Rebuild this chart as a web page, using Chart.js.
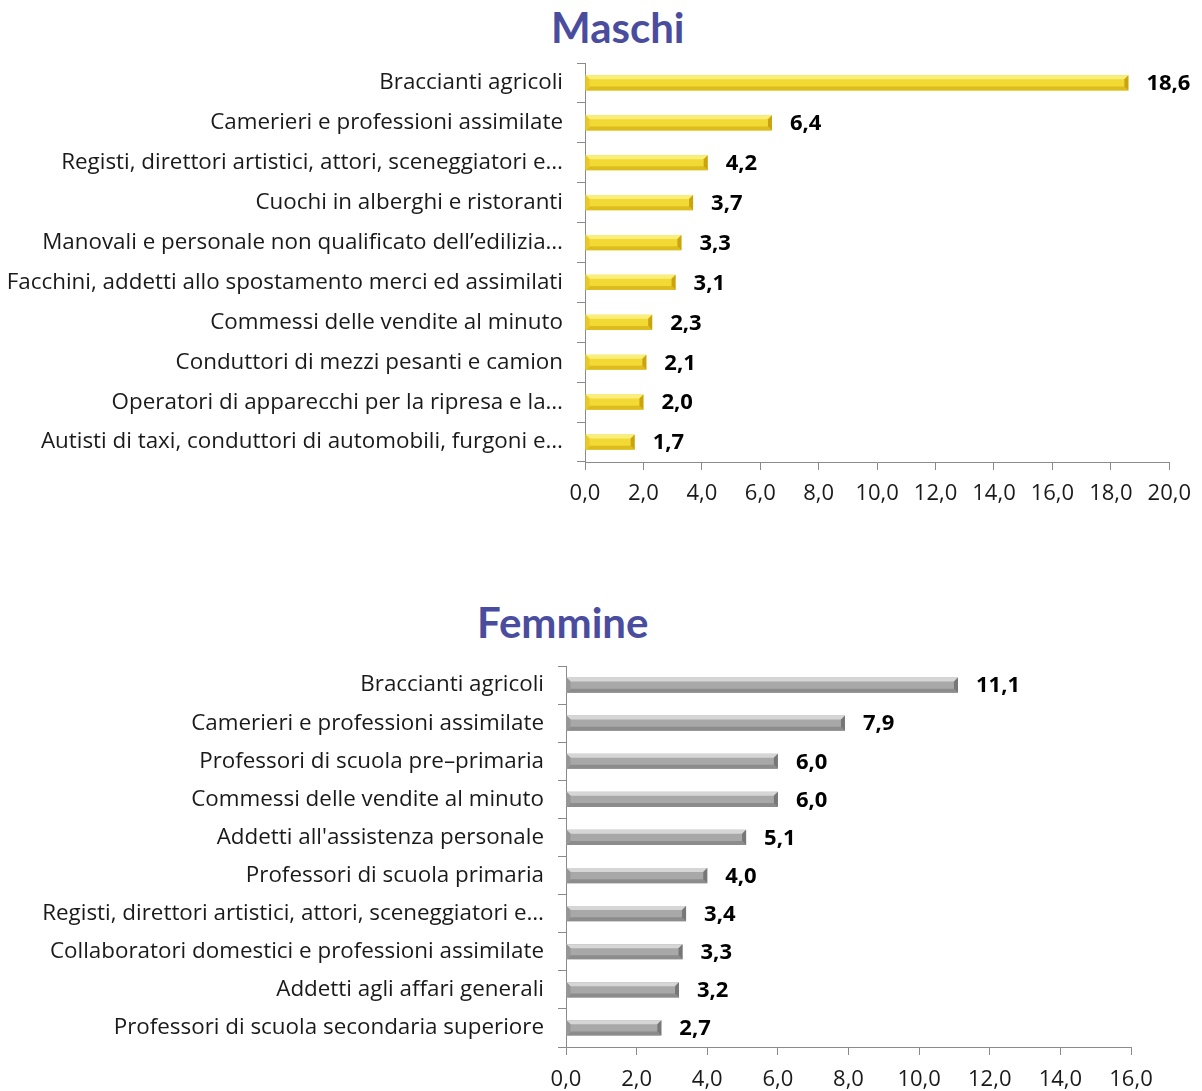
<!DOCTYPE html>
<html>
<head>
<meta charset="utf-8">
<script src="https://cdn.jsdelivr.net/npm/chart.js@4"></script>
<style>
  body { margin: 0; background: #fff; width: 1202px; height: 1091px; position: relative; overflow: hidden; }
  .title { position: absolute; font-family: Lato, sans-serif; font-weight: bold; font-size: 42px; color: #4a4d9e; line-height: 1; }
  .box { position: absolute; left: 0; width: 1202px; }
</style>
</head>
<body>
<div class="title" style="left:551px; top:6px;">Maschi</div>
<div class="title" style="left:477px; top:601px;">Femmine</div>
<div class="box" style="top:0; height:520px;"><canvas id="maschiChart"></canvas></div>
<div class="box" style="top:560px; height:531px;"><canvas id="femmineChart"></canvas></div>
<script>
const maleCategories = [
  'Braccianti agricoli',
  'Camerieri e professioni assimilate',
  'Registi, direttori artistici, attori, sceneggiatori e…',
  'Cuochi in alberghi e ristoranti',
  'Manovali e personale non qualificato dell’edilizia…',
  'Facchini, addetti allo spostamento merci ed assimilati',
  'Commessi delle vendite al minuto',
  'Conduttori di mezzi pesanti e camion',
  'Operatori di apparecchi per la ripresa e la…',
  'Autisti di taxi, conduttori di automobili, furgoni e…'
];
const maleValues = [18.6, 6.4, 4.2, 3.7, 3.3, 3.1, 2.3, 2.1, 2.0, 1.7];

const femaleCategories = [
  'Braccianti agricoli',
  'Camerieri e professioni assimilate',
  'Professori di scuola pre–primaria',
  'Commessi delle vendite al minuto',
  "Addetti all'assistenza personale",
  'Professori di scuola primaria',
  'Registi, direttori artistici, attori, sceneggiatori e…',
  'Collaboratori domestici e professioni assimilate',
  'Addetti agli affari generali',
  'Professori di scuola secondaria superiore'
];
const femaleValues = [11.1, 7.9, 6.0, 6.0, 5.1, 4.0, 3.4, 3.3, 3.2, 2.7];

const maleAxis = [0, 20, 2];   // min, max, step
const femaleAxis = [0, 16, 2];

const fmt = v => v.toFixed(1).replace('.', ',');
const FONT = "'Open Sans', sans-serif";

// bevelled bars + value labels
const bevelPlugin = {
  id: 'bevel',
  afterDatasetsDraw(chart, args, opts) {
    const ctx = chart.ctx;
    const meta = chart.getDatasetMeta(0);
    const values = chart.data.datasets[0].data;
    meta.data.forEach((bar, i) => {
      const p = bar.getProps(['x', 'y', 'base', 'height'], true);
      const x0 = p.base, x1 = p.x;
      const top = p.y - p.height / 2, bot = p.y + p.height / 2;
      const b = 4;
      const poly = (pts, color) => {
        ctx.beginPath();
        ctx.moveTo(pts[0][0], pts[0][1]);
        pts.slice(1).forEach(q => ctx.lineTo(q[0], q[1]));
        ctx.closePath();
        ctx.fillStyle = color;
        ctx.fill();
      };
      ctx.save();
      poly([[x0, top], [x1, top], [x1 - b, top + b], [x0 + b, top + b]], opts.light);
      poly([[x0, bot], [x1, bot], [x1 - b, bot - b], [x0 + b, bot - b]], opts.dark);
      poly([[x1, top], [x1, bot], [x1 - b, bot - b], [x1 - b, top + b]], opts.end);
      poly([[x0, top], [x0, bot], [x0 + b, bot - b], [x0 + b, top + b]], opts.start);
      ctx.fillStyle = '#000';
      ctx.font = 'bold 22px ' + FONT;
      ctx.textBaseline = 'middle';
      ctx.textAlign = 'left';
      ctx.fillText(fmt(values[i]), x1 + 18, p.y + 1);
      ctx.restore();
    });
  }
};

function createChart(id, labels, values, axis, colors, box) {
  const ctx = document.getElementById(id).getContext('2d');
  return new Chart(ctx, {
    type: 'bar',
    data: {
      labels: labels,
      datasets: [{
        data: values,
        backgroundColor: colors.main,
        borderWidth: 0,
        barPercentage: box.barPct,
        categoryPercentage: 1
      }]
    },
    options: {
      indexAxis: 'y',
      responsive: true,
      maintainAspectRatio: false,
      animation: false,
      layout: { padding: { top: box.top, right: box.right, left: 0, bottom: 0 } },
      plugins: {
        legend: { display: false },
        tooltip: { enabled: false },
        bevel: colors
      },
      scales: {
        x: {
          min: axis[0], max: axis[1],
          ticks: {
            stepSize: axis[2],
            callback: v => fmt(v),
            color: '#1a1a1a',
            font: { family: FONT, size: 22 },
            padding: box.tickPad,
            maxRotation: 0
          },
          grid: { drawOnChartArea: false, drawTicks: true, tickLength: 8, color: '#8a8a8a' },
          border: { color: '#8a8a8a', width: 1 },
          afterFit: s => { s.height = box.xHeight; }
        },
        y: {
          ticks: {
            color: '#1a1a1a',
            font: { family: FONT, size: 22.4 },
            padding: 14,
            autoSkip: false
          },
          grid: { drawOnChartArea: false, drawTicks: true, tickLength: 8, color: '#8a8a8a', offset: true },
          border: { color: '#8a8a8a', width: 1 },
          afterFit: s => { s.width = box.left; }
        }
      }
    },
    plugins: [bevelPlugin]
  });
}

createChart('maschiChart', maleCategories, maleValues, maleAxis,
  { main: '#f2d934', light: '#faee7a', dark: '#dcbc1e', end: '#c9a310', start: '#e8c82a' },
  { top: 63, right: 27, left: 585, xHeight: 58, barPct: 0.38, tickPad: 11 });

createChart('femmineChart', femaleCategories, femaleValues, femaleAxis,
  { main: '#a8a8a8', light: '#d6d6d6', dark: '#8c8c8c', end: '#777777', start: '#969696' },
  { top: 106, right: 71, left: 566, xHeight: 44, barPct: 0.4, tickPad: 12 });
</script>
</body>
</html>
